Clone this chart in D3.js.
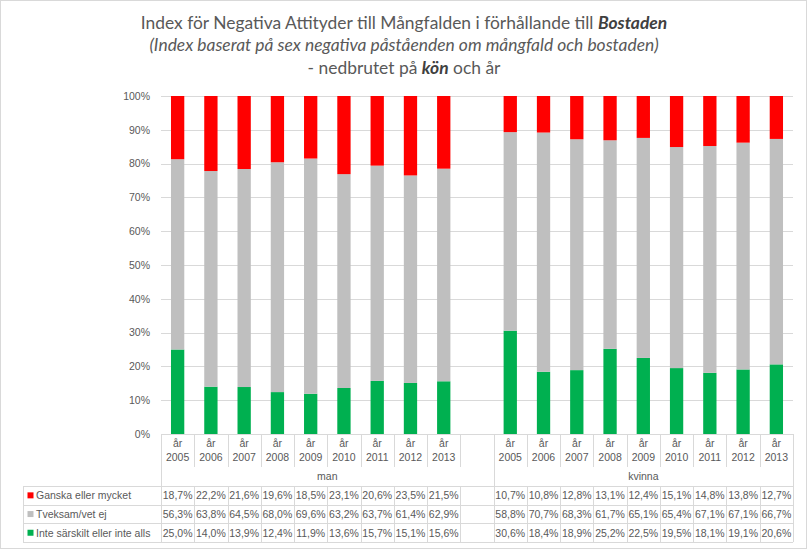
<!DOCTYPE html>
<html>
<head>
<meta charset="utf-8">
<script src="https://cdn.jsdelivr.net/npm/d3@7"></script>
<style>
  html, body { margin: 0; padding: 0; background: #fff; }
  svg { display: block; }
</style>
</head>
<body>
<svg id="chart" width="808" height="550"></svg>
<script>
// ---------- DATA ----------
const years = ["2005", "2006", "2007", "2008", "2009", "2010", "2011", "2012", "2013"];
const groups = ["man", "kvinna"];
const seriesNames = ["Ganska eller mycket", "Tveksam/vet ej", "Inte särskilt eller inte alls"];
const seriesColors = ["#FF0000", "#BFBFBF", "#00B050"];
const ganskaMan = [18.7, 22.2, 21.6, 19.6, 18.5, 23.1, 20.6, 23.5, 21.5];
const tveksamMan = [56.3, 63.8, 64.5, 68.0, 69.6, 63.2, 63.7, 61.4, 62.9];
const inteMan = [25.0, 14.0, 13.9, 12.4, 11.9, 13.6, 15.7, 15.1, 15.6];
const ganskaKvinna = [10.7, 10.8, 12.8, 13.1, 12.4, 15.1, 14.8, 13.8, 12.7];
const tveksamKvinna = [58.8, 70.7, 68.3, 61.7, 65.1, 65.4, 67.1, 67.1, 66.7];
const inteKvinna = [30.6, 18.4, 18.9, 25.2, 22.5, 19.5, 18.1, 19.1, 20.6];
const yTicks = [0, 0.1, 0.2, 0.3, 0.4, 0.5, 0.6, 0.7, 0.8, 0.9, 1.0];

// ---------- BUILD ROWS ----------
const rows = [];
years.forEach((y, i) => rows.push({key: "man|" + y, group: "man", year: y,
  ganska: ganskaMan[i], tveksam: tveksamMan[i], inte: inteMan[i]}));
rows.push({key: "man|blank", group: "man", year: null});
years.forEach((y, i) => rows.push({key: "kvinna|" + y, group: "kvinna", year: y,
  ganska: ganskaKvinna[i], tveksam: tveksamKvinna[i], inte: inteKvinna[i]}));
const dataRows = rows.filter(r => r.year !== null);

// ---------- LAYOUT ----------
const W = 808, H = 550;
const plotL = 161, plotR = 793, plotT = 96, plotB = 434;
const tableL = 23;
const rowH = 18.7;
const tableT = 486;
const textColor = "#595959";
const lineColor = "#D9D9D9";
const fontFam = "'Liberation Sans', Arial, sans-serif";
const fs = 10.5;

const svg = d3.select("#chart");

const x = d3.scaleBand().domain(rows.map(r => r.key)).range([plotL, plotR])
  .paddingInner(0.6).paddingOuter(0.3);
const step = x.step();
const y = d3.scaleLinear().domain([0, 1]).range([plotB, plotT]);

const loc = d3.formatLocale({decimal: ",", thousands: " ", grouping: [3], currency: ["", " kr"], percent: "%"});
const fmtPct = loc.format(".1f");
const fmtAxis = d3.format(".0%");

// frame
svg.append("rect").attr("x", 0.5).attr("y", 0.5).attr("width", W - 2).attr("height", H - 2)
  .attr("fill", "#fff").attr("stroke", lineColor);

// ---------- TITLE ----------
const title = svg.append("g").attr("font-family", "Lato, 'Open Sans', sans-serif").attr("fill", textColor);
function titleLine(yPos, parts) {
  const t = title.append("text").attr("x", 404).attr("y", yPos).attr("text-anchor", "middle")
    .attr("font-size", 18).attr("font-weight", 400);
  parts.forEach(p => {
    const s = t.append("tspan").text(p.t);
    if (p.b) s.attr("font-weight", 700).attr("fill", "#404040");
    if (p.i) s.attr("font-style", "italic");
  });
  return t;
}
const t1 = titleLine(29, [{t: "Index för Negativa Attityder till Mångfalden i förhållande till "}, {t: "Bostaden", b: true, i: true}]);
const t2 = titleLine(51, [{t: "(Index baserat på sex negativa påståenden om mångfald och bostaden)", i: true}]);
const t3 = titleLine(74, [{t: "- nedbrutet på "}, {t: "kön", b: true, i: true}, {t: " och år"}]);
// fit title size to the reference width of the first line
const len1 = t1.node().getComputedTextLength();
const tfs = 18 * 527 / len1;
[t1, t2, t3].forEach(t => t.attr("font-size", tfs));

// ---------- GRID & Y AXIS ----------
svg.append("g").selectAll("line").data(yTicks).join("line")
  .attr("x1", plotL).attr("x2", plotR)
  .attr("y1", d => Math.round(y(d)) + 0.5).attr("y2", d => Math.round(y(d)) + 0.5)
  .attr("stroke", lineColor).attr("stroke-width", 1);

const yAxis = svg.append("g").attr("transform", `translate(${plotL - 11},0)`)
  .call(d3.axisLeft(y).tickValues(yTicks).tickFormat(fmtAxis).tickSize(0).tickPadding(0));
yAxis.select(".domain").remove();
yAxis.selectAll("text").attr("font-family", fontFam).attr("font-size", fs).attr("fill", textColor);

// ---------- BARS ----------
const stack = d3.stack().keys(["inte", "tveksam", "ganska"]).offset(d3.stackOffsetExpand);
const stacked = stack(dataRows);
const colorByKey = {ganska: seriesColors[0], tveksam: seriesColors[1], inte: seriesColors[2]};
svg.append("g").selectAll("g").data(stacked).join("g")
  .attr("fill", d => colorByKey[d.key])
  .selectAll("rect").data(d => d).join("rect")
  .attr("x", d => x(d.data.key)).attr("width", x.bandwidth())
  .attr("y", d => y(d[1])).attr("height", d => y(d[0]) - y(d[1]));

// ---------- CATEGORY AXIS ----------
const axisG = svg.append("g").attr("font-family", fontFam).attr("font-size", fs).attr("fill", textColor);
axisG.append("line").attr("x1", plotL).attr("x2", plotR).attr("y1", plotB + 0.5).attr("y2", plotB + 0.5)
  .attr("stroke", lineColor);
const boundaries = rows.map(r => x(r.key) - x.paddingOuter() * step);
boundaries.push(plotR);
boundaries.forEach((b, i) => {
  const isGroup = i === 0 || i === 10 || i === rows.length;
  axisG.append("line").attr("x1", Math.round(b) + 0.5).attr("x2", Math.round(b) + 0.5)
    .attr("y1", plotB).attr("y2", isGroup ? tableT : 467).attr("stroke", lineColor);
});
axisG.selectAll("text.yr1").data(dataRows).join("text").attr("class", "yr1")
  .attr("x", d => x(d.key) + x.bandwidth() / 2).attr("y", 447).attr("text-anchor", "middle").text("år");
axisG.selectAll("text.yr2").data(dataRows).join("text").attr("class", "yr2")
  .attr("x", d => x(d.key) + x.bandwidth() / 2).attr("y", 461).attr("text-anchor", "middle").text(d => d.year);
groups.forEach(g => {
  const gr = rows.filter(r => r.group === g);
  const x0 = x(gr[0].key) - x.paddingOuter() * step;
  const x1 = x(gr[gr.length - 1].key) - x.paddingOuter() * step + step;
  axisG.append("text").attr("x", (x0 + x1) / 2).attr("y", 480).attr("text-anchor", "middle").text(g);
});

// ---------- DATA TABLE ----------
const tbl = svg.append("g").attr("font-family", fontFam).attr("font-size", fs).attr("fill", textColor);
const seriesKeys = ["ganska", "tveksam", "inte"];
for (let k = 0; k <= 3; k++) {
  const yy = Math.round(tableT + k * rowH) + 0.5;
  tbl.append("line").attr("x1", tableL).attr("x2", plotR).attr("y1", yy).attr("y2", yy).attr("stroke", lineColor);
}
const vx = [tableL].concat(boundaries);
vx.forEach(b => {
  tbl.append("line").attr("x1", Math.round(b) + 0.5).attr("x2", Math.round(b) + 0.5)
    .attr("y1", tableT).attr("y2", tableT + 3 * rowH).attr("stroke", lineColor);
});
seriesNames.forEach((name, k) => {
  const cy = tableT + k * rowH + rowH / 2;
  tbl.append("rect").attr("x", 27.5).attr("y", cy - 3).attr("width", 6).attr("height", 6).attr("fill", seriesColors[k]);
  tbl.append("text").attr("x", 36).attr("y", cy + 3.8).text(name);
});
seriesKeys.forEach((key, k) => {
  const cy = tableT + k * rowH + rowH / 2;
  tbl.selectAll("text.v" + key).data(dataRows).join("text").attr("class", "v" + key)
    .attr("x", d => x(d.key) + x.bandwidth() / 2).attr("y", cy + 3.8).attr("text-anchor", "middle")
    .text(d => fmtPct(d[key]) + "%");
});
</script>
</body>
</html>
